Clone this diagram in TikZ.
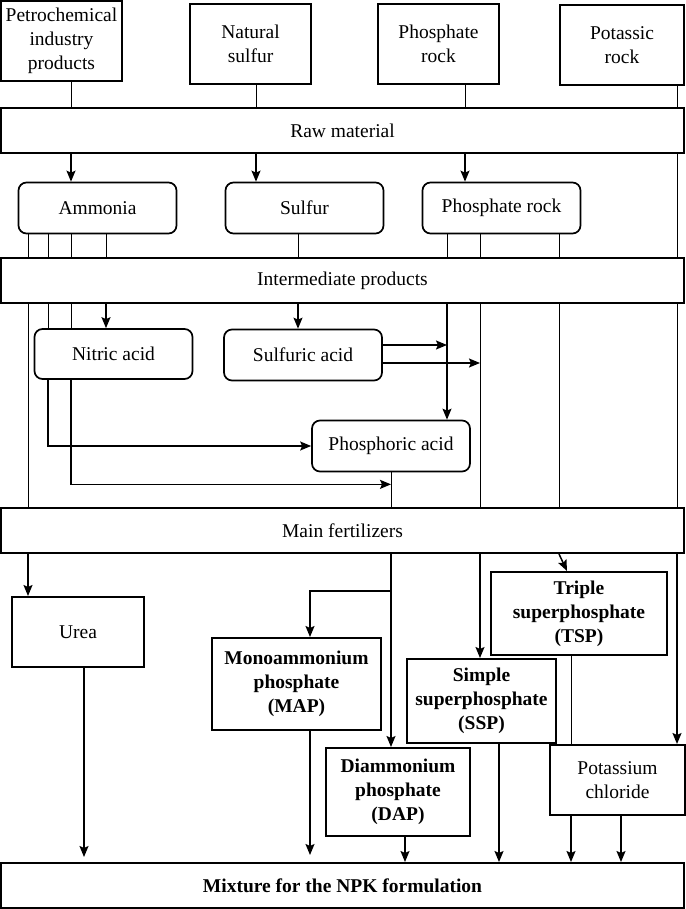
\documentclass[tikz,border=0pt]{standalone}
\usepackage{fontspec}
\setmainfont{Liberation Serif}
\usepackage{tikz}
\usetikzlibrary{shapes.geometric, arrows.meta}
\newcommand{\boxfont}{\fontsize{19.5}{24}\selectfont}
\tikzstyle{source} = [rectangle, minimum width=121pt, minimum height=80pt, text centered, align=center, inner sep=1pt, draw=black, line width=2pt]
\tikzstyle{stage} = [rectangle, minimum width=683pt, minimum height=45pt, text centered, draw=black, line width=2pt]
\tikzstyle{interm} = [rectangle, rounded corners=8pt, minimum width=158pt, minimum height=51pt, text centered, draw=black, line width=1.7pt]
\tikzstyle{product} = [rectangle, text centered, align=center, inner sep=1pt, draw=black, line width=2pt, font=\boxfont\bfseries]
\tikzstyle{arrow} = [line width=1.5pt, -{Stealth[length=11pt, width=9pt, inset=2pt]}]
\tikzstyle{line} = [line width=0.8pt]

\begin{document}
\begin{tikzpicture}[x=1pt, y=-1pt, node distance=150pt, font=\boxfont]
\useasboundingbox (0,0) rectangle (685,909);

\node (raw) [stage] at (342.5,130.5) {Raw material};
\node (intermed) [stage, below of=raw] {Intermediate products};
\node (mainfert) [stage, below of=intermed, yshift=-100pt] {Main fertilizers};
\node (mix) [stage, below of=mainfert, yshift=-205pt, font=\boxfont\bfseries] {Mixture for the NPK formulation};

\node (petro) [source, above of=raw, xshift=-281pt, yshift=-60.5pt] {Petrochemical\\industry\\products};
\node (natsulfur) [source, right of=petro, xshift=39pt, yshift=-3pt] {Natural\\sulfur};
\node (phosrock) [source, right of=natsulfur, xshift=38pt] {Phosphate\\rock};
\node (potassic) [source, right of=phosrock, xshift=33.5pt, yshift=-1pt, minimum width=124pt] {Potassic\\rock};

\node (ammonia) [interm, below of=petro, xshift=36pt, yshift=-17pt] {Ammonia};
\node (sulfur) [interm, right of=ammonia, xshift=57pt] {Sulfur};
\node (rock) [interm, right of=sulfur, xshift=47pt] {Phosphate rock};
\node (nitric) [interm, below of=ammonia, xshift=16pt, yshift=4pt, minimum height=50pt] {Nitric acid};
\node (sulfuric) [interm, below of=sulfur, xshift=-1.5pt, yshift=3pt] {Sulfuric acid};
\node (phosacid) [interm, below of=sulfuric, xshift=88pt, yshift=59pt] {Phosphoric acid};

\node (urea) [source, below of=mainfert, xshift=-264.5pt, yshift=48.5pt, minimum width=132pt, minimum height=70pt] {Urea};
\node (map) [product, right of=urea, xshift=68.5pt, yshift=-52pt, minimum width=169pt, minimum height=92pt] {Monoammonium\\phosphate\\(MAP)};
\node (ssp) [product, right of=map, xshift=35pt, yshift=-17pt, minimum width=149pt, minimum height=84pt] {Simple\\superphosphate\\(SSP)};
\node (tsp) [product, right of=ssp, xshift=-52.5pt, yshift=87.5pt, minimum width=176pt, minimum height=83pt] {Triple\\superphosphate\\(TSP)};
\node (dap) [product, below of=map, xshift=101.5pt, yshift=42pt, minimum width=144pt, minimum height=88pt] {Diammonium\\phosphate\\(DAP)};
\node (kcl) [source, below of=tsp, xshift=38.5pt, yshift=-16.5pt, minimum width=135pt, minimum height=70pt] {Potassium\\chloride};

% columns of the flow lines
\foreach \n/\x in {a/28, b/48, c/71, d/106, h/84, s/256, t/298, m/310, e/405, p/447, q/465, r/480, f/499, u/559, w/571, z/621, v/677}
  \coordinate (x\n) at (\x,0);

% raw material
\foreach \src/\col in {petro/c, natsulfur/s, phosrock/q, potassic/v}
  \draw [line] (\src.south -| x\col) -- (raw.north -| x\col);
\foreach \dst/\col in {ammonia/c, sulfur/s, rock/q}
  \draw [arrow] (raw.south -| x\col) -- (\dst.north -| x\col);
\draw [line] (raw.south -| xv) -- (intermed.north -| xv);
\foreach \col in {a, b, c, d}
  \draw [line] (ammonia.south -| x\col) -- (intermed.north -| x\col);
\draw [line] (sulfur.south -| xt) -- (intermed.north -| xt);
\foreach \col in {p, r, u}
  \draw [line] (rock.south -| x\col) -- (intermed.north -| x\col);

% intermediate products
\foreach \col in {b, c}
  \draw [line] (intermed.south -| x\col) -- (nitric.north -| x\col);
\draw [arrow] (intermed.south -| xd) -- (nitric.north -| xd);
\draw [arrow] (intermed.south -| xt) -- (sulfuric.north -| xt);
\draw [arrow] (intermed.south -| xp) -- (phosacid.north -| xp);
\foreach \col in {a, r, u, v}
  \draw [line] (intermed.south -| x\col) -- (mainfert.north -| x\col);
\path ([yshift=10pt]sulfuric.east) coordinate (s1) ([yshift=-8pt]sulfuric.east) coordinate (s2);
\draw [arrow] (s1) -- (s1 -| xp);
\draw [arrow] (s2) -- (s2 -| xr);
\draw [arrow] (nitric.south -| xb) |- (phosacid.west);
\coordinate (pjoin) at ([yshift=-12pt]phosacid.south);
\draw [arrow] (nitric.south -| xc) |- (pjoin);
\draw [line] (phosacid.south) -- (mainfert.north -| phosacid.south);

% main fertilizers
\draw [arrow] (mainfert.south -| xa) -- (urea.north -| xa);
\path (mainfert.south -| phosacid.south) ++(0,37) coordinate (mbranch);
\draw [arrow] (mainfert.south -| phosacid.south) -- (dap.north -| phosacid.south);
\draw [arrow] (mbranch) -| (map.north -| xm);
\draw [arrow] (mainfert.south -| xr) -- (ssp.north -| xr);
\draw [arrow] (mainfert.south -| xu) -- ([xshift=-12pt]tsp.north);
\draw [arrow] (mainfert.south -| xv) -- (kcl.north -| xv);
\draw [line] (tsp.south -| xw) -- (kcl.north -| xw);

% mixture
\draw [arrow, shorten >=5pt] (urea.south -| xh) -- (mix.north -| xh);
\draw [arrow, shorten >=7pt] (map.south -| xm) -- (mix.north -| xm);
\foreach \src/\col in {dap/e, ssp/f, kcl/w, kcl/z}
  \draw [arrow] (\src.south -| x\col) -- (mix.north -| x\col);

\end{tikzpicture}
\end{document}
